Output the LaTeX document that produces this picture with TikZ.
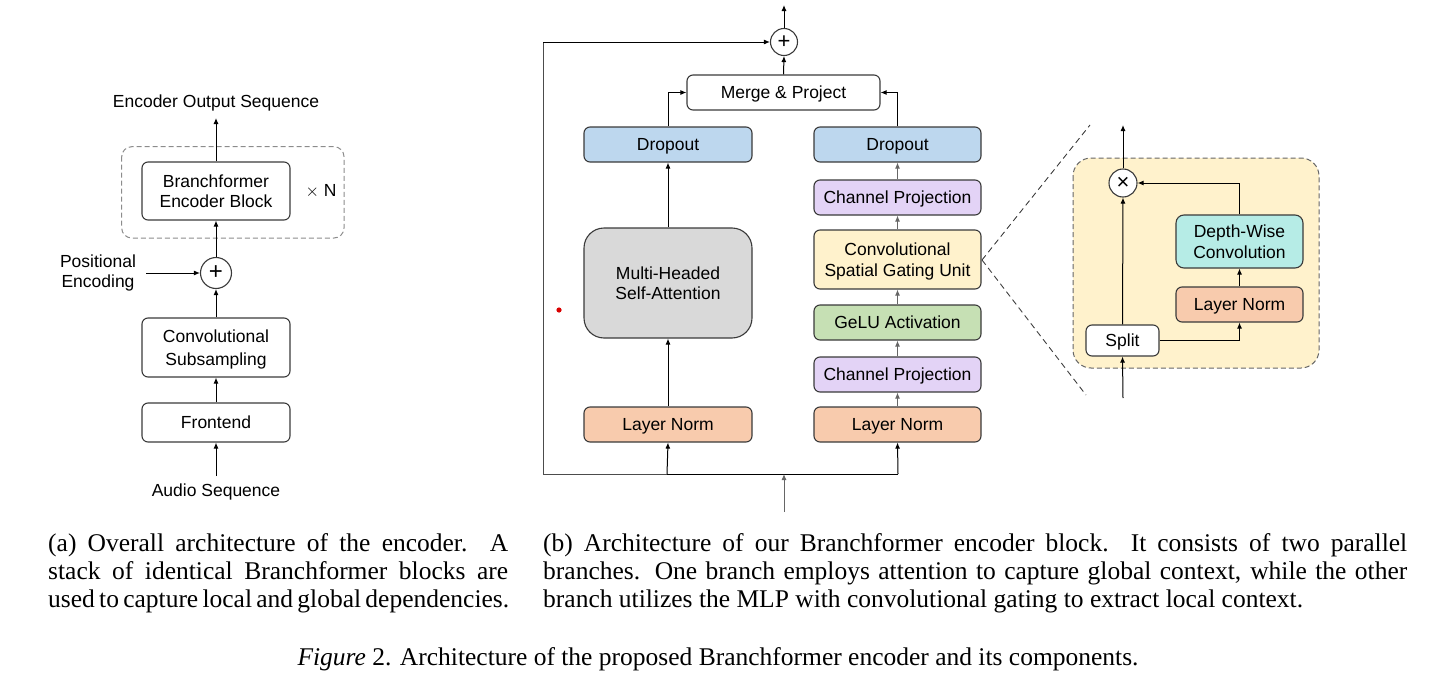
\documentclass[tikz,border=0pt]{standalone}
\usepackage{fontspec}
\setmainfont{Liberation Sans}
\newfontfamily\capfont{Liberation Serif}
\usetikzlibrary{arrows.meta,positioning,calc}
\definecolor{cdrop}{HTML}{BDD7EE}
\definecolor{cproj}{HTML}{E3D3F6}
\definecolor{cgate}{HTML}{FFF2CC}
\definecolor{cgelu}{HTML}{C6E0B4}
\definecolor{cnorm}{HTML}{F8CBAD}
\definecolor{cdwc}{HTML}{B6ECE6}
\definecolor{cmhsa}{HTML}{D9D9D9}
\definecolor{cedge}{HTML}{3A3A3A}
\begin{document}
\begin{tikzpicture}[x=1pt,y=-1pt,
  every node/.style={font=\fontsize{17.5}{20.5}\selectfont},
  blk/.style={draw=cedge,line width=1.1pt,rounded corners=6pt,align=center,inner sep=0pt,text depth=0pt},
  opc/.style={draw=cedge,circle,line width=1.1pt,fill=white,inner sep=0pt},
  arr/.style={-{Latex[length=6pt,width=5pt]},line width=1pt,black},
  garr/.style={-{Latex[length=6pt,width=5pt]},line width=1pt,black!60},
  ln/.style={line width=1pt,black},
  captxt/.style={font=\capfont\fontsize{25.5}{28}\selectfont,inner sep=0pt,anchor=base west}
]
\useasboundingbox (0,0) rectangle (1436,688);

% ---------------- left diagram ----------------
\draw[dashed,draw=black!45,line width=1pt,rounded corners=10pt,dash pattern=on 5pt off 3pt] (121.7,146.7) rectangle (344,238);
\node[blk,minimum width=148pt,minimum height=58pt] (enc) at (216,191) {Branchformer\\Encoder Block};
\node (xn) at (321,191) {$\times$ N};
\node[opc,minimum size=31pt] (p1) at (216,273) {\fontsize{24}{24}\selectfont +};
\node[blk,minimum width=148pt,minimum height=59pt,font=\fontsize{17.5}{23}\selectfont] (sub) at (216,347.5) {Convolutional\\Subsampling};
\node[blk,minimum width=148pt,minimum height=39pt] (fe) at (216,422.5) {Frontend};
\node (out) at (216,103) {Encoder Output Sequence};
\node (aud) at (216,492) {Audio Sequence};
\node[align=center] (pos) at (98,273) {Positional\\Encoding};
\coordinate (outa) at (216,118);
\coordinate (auda) at (216,476);
\coordinate (posa) at (146,273);
\draw[arr] (auda) -- (fe.south);
\draw[arr] (fe.north) -- (sub.south);
\draw[arr] (sub.north) -- (p1.south);
\draw[arr] (posa) -- (p1.west);
\draw[arr] (p1.north) -- (enc.south);
\draw[arr] (enc.north) -- (outa);

% ---------------- middle diagram ----------------
\node[opc,minimum size=27pt] (p2) at (784,42) {\fontsize{22}{22}\selectfont +};
\node[blk,minimum width=193pt,minimum height=35pt] (mp) at (783.5,92.5) {Merge \& Project};
\node[blk,fill=cdrop,minimum width=168pt,minimum height=35pt] (dl) at (668,144.5) {Dropout};
\node[blk,fill=cdrop,minimum width=167pt,minimum height=35pt] (dr) at (897.5,144.5) {Dropout};
\node[blk,fill=cproj,minimum width=167pt,minimum height=35pt] (cpt) at (897.5,197.5) {Channel Projection};
\node[blk,fill=cgate,minimum width=167pt,minimum height=59pt] (sgu) at (897.5,259.5) {Convolutional\\Spatial Gating Unit};
\node[blk,fill=cgelu,minimum width=167pt,minimum height=35pt] (gelu) at (897.5,322.5) {GeLU Activation};
\node[blk,fill=cproj,minimum width=167pt,minimum height=35pt] (cpb) at (897.5,374.5) {Channel Projection};
\node[blk,fill=cnorm,minimum width=167pt,minimum height=35pt] (lnr) at (897.5,424.5) {Layer Norm};
\node[blk,fill=cnorm,minimum width=168pt,minimum height=35pt] (lnl) at (668,424.5) {Layer Norm};
\node[blk,fill=cmhsa,rounded corners=20pt,minimum width=168pt,minimum height=110pt] (mhsa) at (668,283) {Multi-Headed\\Self-Attention};
\fill[red!85!black] (559,310) circle (2.6pt);

\coordinate (top) at (784,5);
\coordinate (inb) at (784,512);
\coordinate (ina) at (784,474);
\coordinate (jl) at (667,474);
\coordinate (jr) at (898,474);
\coordinate (cl) at (543,474);
\coordinate (ctl) at (543,42);
\draw[line width=1pt,black!70] (jl) -- (cl) -- (ctl);
\draw[arr] (ctl) -- (p2.west);
\draw[ln] (jl) -- (jr);
\draw[garr] (inb) -- (ina);
\draw[arr] (jl) -- (lnl.south);
\draw[arr] (jr) -- (lnr.south);
\draw[arr] (lnl.north) -- (mhsa.south);
\draw[arr] (mhsa.north) -- (dl.south);
\draw[arr] (dl.north) |- (mp.west);
\draw[garr] (lnr.north) -- (cpb.south);
\draw[garr] (cpb.north) -- (gelu.south);
\draw[garr] (gelu.north) -- (sgu.south);
\draw[garr] (sgu.north) -- (cpt.south);
\draw[garr] (cpt.north) -- (dr.south);
\draw[arr] (dr.north) |- (mp.east);
\draw[arr] (mp.north) -- (p2.south);
\draw[arr] (p2.north) -- (top);

% ---------------- inset ----------------
\coordinate (zs) at (982,260);
\coordinate (zu) at (1090,125);
\coordinate (zd) at (1086,395);
\draw[dashed,black!75,line width=0.9pt,dash pattern=on 6pt off 4pt] (zs) -- (zu);
\draw[dashed,black!75,line width=0.9pt,dash pattern=on 6pt off 4pt] (zs) -- (zd);
\draw[fill=cgate,draw=black!60,line width=1pt,dash pattern=on 5pt off 3pt,rounded corners=18pt] (1073,158) rectangle (1319,368);
\node[opc,minimum size=28pt] (tm) at (1123,183) {\fontsize{22}{22}\selectfont ×};
\node[blk,fill=white,minimum width=73pt,minimum height=31pt] (sp) at (1122.5,340.5) {Split};
\node[blk,fill=cnorm,minimum width=127pt,minimum height=35pt] (lni) at (1239.5,304.5) {Layer Norm};
\node[blk,fill=cdwc,rounded corners=8pt,minimum width=127pt,minimum height=53pt] (dwc) at (1239.5,241.5) {Depth-Wise\\Convolution};
\coordinate (itop) at (1123,125);
\coordinate (iin) at (1123,398);
\draw[arr] (iin) -- (sp.south);
\draw[arr] (sp.north) -- (tm.south);
\draw[arr] (tm.north) -- (itop);
\draw[arr] (sp.east) -| (lni.south);
\draw[arr] (lni.north) -- (dwc.south);
\draw[arr] (dwc.north) |- (tm.east);

% ---------------- captions ----------------
\node[captxt] (ca1) at (48,551) {\makebox[460pt][s]{(a) Overall architecture of the encoder.\ \ A}};
\node[captxt] (ca2) at (48,579) {\makebox[460pt][s]{stack of identical Branchformer blocks are}};
\node[captxt] (ca3) at (48,607) {\makebox[459pt][s]{used to capture local and global dependencies.}};
\node[captxt] (cb1) at (543,551) {\makebox[864pt][s]{(b) Architecture of our Branchformer encoder block.\ \ It consists of two parallel}};
\node[captxt] (cb2) at (543,579) {\makebox[864pt][s]{branches. One branch employs attention to capture global context, while the other}};
\node[captxt] (cb3) at (543,607) {branch utilizes the MLP with convolutional gating to extract local context.};
\node[captxt,anchor=base] (cf) at (718,665) {\textit{Figure} 2. Architecture of the proposed Branchformer encoder and its components.};
\end{tikzpicture}
\end{document}
